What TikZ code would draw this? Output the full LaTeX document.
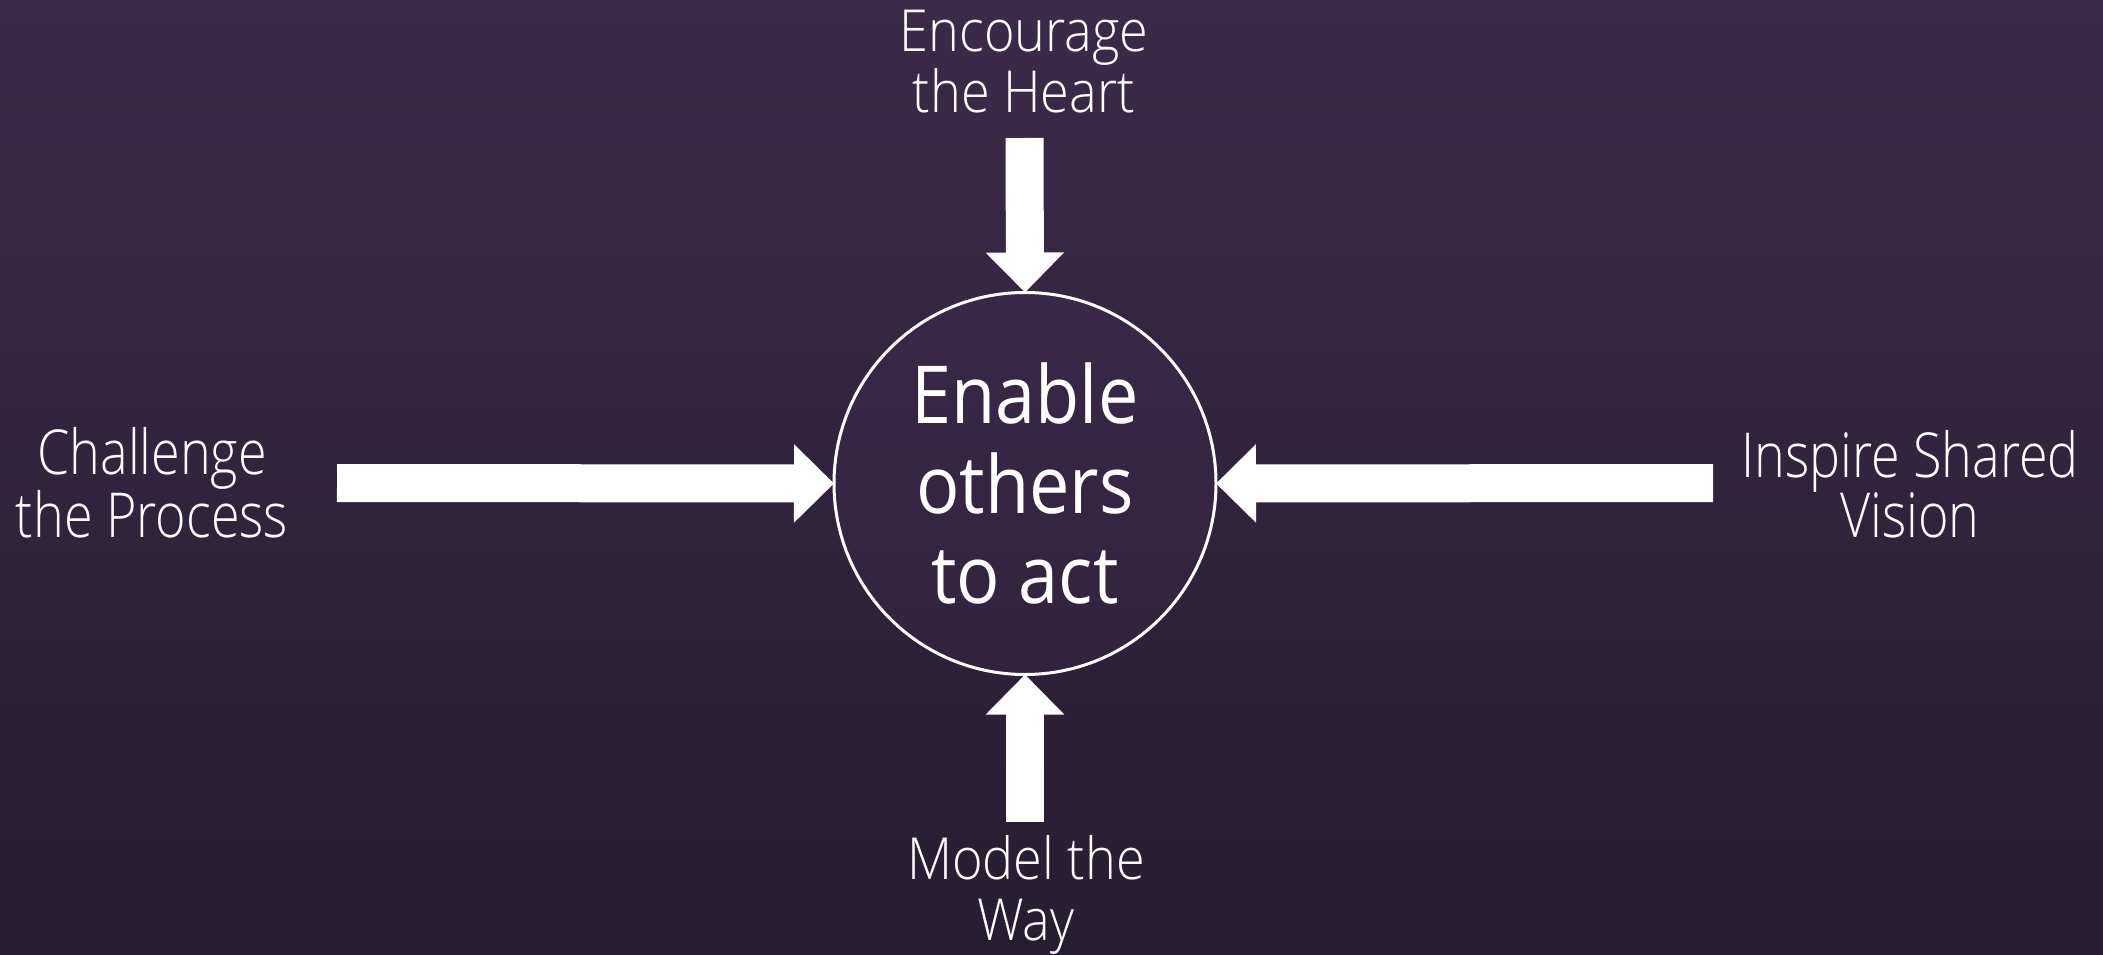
\documentclass[tikz,border=0pt]{standalone}
\usepackage{fontspec}
\usetikzlibrary{arrows.meta}
\IfFontExistsTF{Open Sans Light}
  {\newfontfamily\lightfont{Open Sans Light}[FakeStretch=0.9]
   \newfontfamily\sidefont{Open Sans Light}[FakeStretch=0.84]}
  {\IfFontExistsTF{Lato Light}
     {\newfontfamily\lightfont{Lato Light}
      \newfontfamily\sidefont{Lato Light}[FakeStretch=0.94]}
     {\newfontfamily\lightfont{Open Sans}[FakeStretch=0.9]
      \newfontfamily\sidefont{Open Sans}[FakeStretch=0.84]}}
\newfontfamily\regfont{Open Sans}[FakeStretch=0.9]
\definecolor{bgtop}{HTML}{3B2A4A}
\definecolor{bgbot}{HTML}{271D31}
\definecolor{circtop}{HTML}{392849}
\definecolor{circbot}{HTML}{31233D}
\tikzset{
  lblsmall/.style={text=white, align=center, inner sep=0pt, outer sep=0pt,
    font=\lightfont\fontsize{58}{61}\selectfont},
  lblside/.style={text=white, align=center, inner sep=0pt, outer sep=0pt,
    font=\sidefont\fontsize{62}{60}\selectfont},
  hub/.style={circle, draw=white, line width=3pt, minimum size=382pt,
    inner sep=0pt, outer sep=0pt, top color=circtop, bottom color=circbot,
    text=white, align=center, font=\regfont\fontsize{80}{90}\selectfont},
  blockarrow/.style={draw=white, line width=38pt,
    -{Triangle[length=40pt,width=76pt]}}
}
\begin{document}
\begin{tikzpicture}[x=1pt,y=-1pt]
\shade[top color=bgtop, bottom color=bgbot] (0,0) rectangle (2103,955);
\useasboundingbox (0,0) rectangle (2103,955);
\node[hub] (c) at (1025,483.5) {Enable\\others\\to act};
\node[lblsmall, anchor=base] (t) at (1024,113) {Encourage\\the Heart};
\node[lblsmall, anchor=base] (b) at (1026,940) {Model the\\Way};
\node[lblside, anchor=base] (l) at (152,537) {Challenge\\the Process};
\node[lblside, anchor=base] (r) at (1910,537) {Inspire Shared\\Vision};
\coordinate (ts) at (1024.5,138);
\coordinate (bs) at (1025,822);
\coordinate (ls) at (337,483);
\coordinate (rs) at (1713,483);
\draw[blockarrow] (ts) -- (c.north);
\draw[blockarrow] (bs) -- (c.south);
\draw[blockarrow] (ls) -- (c.west);
\draw[blockarrow] (rs) -- (c.east);
\end{tikzpicture}
\end{document}
